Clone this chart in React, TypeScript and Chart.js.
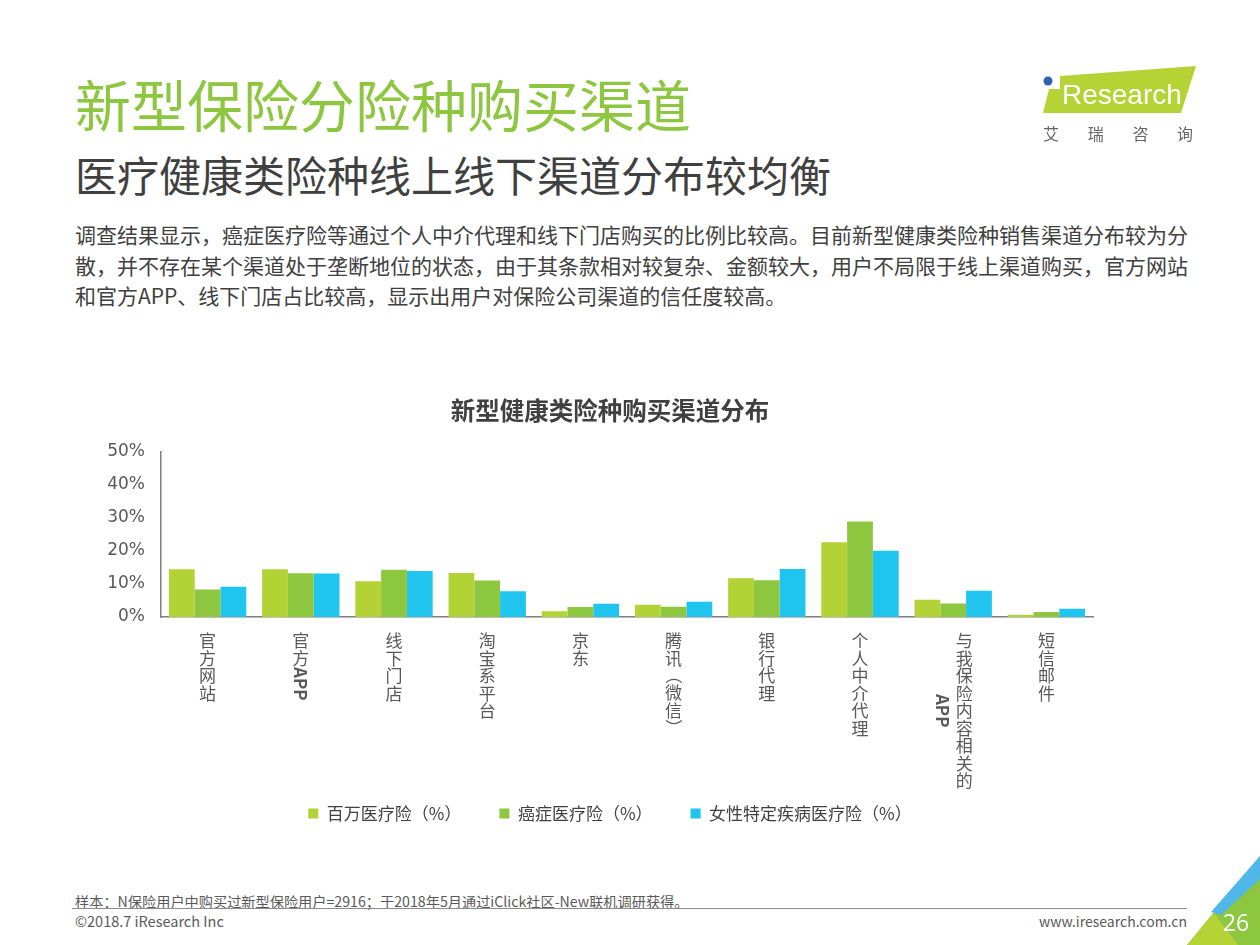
import React, { useEffect, useRef } from "react";
import { Chart, registerables } from "chart.js";

Chart.register(...registerables);

// ---------------- data ----------------
const categories = [
  "官方网站",
  "官方APP",
  "线下门店",
  "淘宝系平台",
  "京东",
  "腾讯（微信）",
  "银行代理",
  "个人中介代理",
  "与我保险内容相关的APP",
  "短信邮件",
];
const seriesNames = ["百万医疗险（%）", "癌症医疗险（%）", "女性特定疾病医疗险（%）"];
const millionMedical = [14.4, 14.4, 10.8, 13.3, 1.7, 3.7, 11.7, 22.6, 5.2, 0.7];
const cancerMedical = [8.3, 13.2, 14.3, 11.0, 3.0, 3.1, 11.1, 28.8, 4.1, 1.5];
const femaleSpecific = [9.1, 13.1, 13.9, 7.8, 4.0, 4.6, 14.5, 20.0, 7.9, 2.5];
const yTickValues = [0, 10, 20, 30, 40, 50];
const seriesColors = ["#B3D236", "#8DC63F", "#1FC4EF"];

const chartTitle = "新型健康类险种购买渠道分布";
const pageTitle = "新型保险分险种购买渠道";
const pageSubtitle = "医疗健康类险种线上线下渠道分布较均衡";
const bodyLines = [
  "调查结果显示，癌症医疗险等通过个人中介代理和线下门店购买的比例比较高。目前新型健康类险种销售渠道分布较为分",
  "散，并不存在某个渠道处于垄断地位的状态，由于其条款相对较复杂、金额较大，用户不局限于线上渠道购买，官方网站",
  "和官方APP、线下门店占比较高，显示出用户对保险公司渠道的信任度较高。",
];
const sourceNote = "样本：N保险用户中购买过新型保险用户=2916；于2018年5月通过iClick社区-New联机调研获得。";

const CJK = '"Noto Sans CJK SC", "Noto Sans", sans-serif';

// ------------- vertical x labels plugin -------------
type Tok = { text: string; rotate: boolean; bold: boolean };
function tokenize(label: string): Tok[] {
  const parts = label.match(/[A-Za-z0-9]+|./gu) || [];
  return parts.map((p) => {
    const latin = /^[A-Za-z0-9]+$/.test(p);
    const paren = /^[（）()]$/.test(p);
    return { text: p, rotate: latin || paren, bold: latin };
  });
}

const verticalLabels = {
  id: "verticalLabels",
  afterDraw(chart: any) {
    const { ctx, chartArea } = chart;
    const x = chart.scales.x;
    const labels: string[] = chart.data.labels;
    const fs = 17;
    const pitch = 17.5;
    const maxH = 160;
    const colGap = 22;
    const top = chartArea.bottom + 15;
    ctx.save();
    ctx.fillStyle = "#595959";
    labels.forEach((label, i) => {
      const cx = x.getPixelForValue(i);
      const toks = tokenize(label);
      const cols: { tok: Tok; adv: number }[][] = [[]];
      const heights: number[] = [0];
      toks.forEach((t) => {
        let adv = pitch;
        if (t.rotate) {
          ctx.font = `${t.bold ? "bold " : ""}${fs}px ${CJK}`;
          adv = ctx.measureText(t.text).width;
        }
        const last = cols.length - 1;
        if (heights[last] + adv > maxH && cols[last].length) {
          cols.push([]);
          heights.push(0);
        }
        cols[cols.length - 1].push({ tok: t, adv });
        heights[heights.length - 1] += adv;
      });
      const n = cols.length;
      cols.forEach((col, ci) => {
        const colX = cx + ((n - 1) / 2) * colGap - ci * colGap;
        let y = top + (ci > 0 ? (heights[0] - heights[ci]) / 2 : 0);
        col.forEach(({ tok, adv }) => {
          ctx.font = `${tok.bold ? "bold " : ""}${fs}px ${CJK}`;
          if (tok.rotate) {
            ctx.save();
            ctx.translate(colX, y);
            ctx.rotate(Math.PI / 2);
            ctx.textAlign = "left";
            ctx.textBaseline = "middle";
            ctx.fillText(tok.text, 0, 0);
            ctx.restore();
          } else {
            ctx.textAlign = "center";
            ctx.textBaseline = "middle";
            ctx.fillText(tok.text, colX, y + pitch / 2);
          }
          y += adv;
        });
      });
    });
    ctx.restore();
  },
};

function BarChart() {
  const ref = useRef<HTMLCanvasElement | null>(null);
  useEffect(() => {
    if (!ref.current) return;
    const series = [millionMedical, cancerMedical, femaleSpecific];
    const chart = new Chart(ref.current, {
      type: "bar",
      data: {
        labels: categories,
        datasets: series.map((d, i) => ({
          label: seriesNames[i],
          data: d,
          backgroundColor: seriesColors[i],
          borderWidth: 0,
          categoryPercentage: 0.83,
          barPercentage: 1.0,
        })),
      },
      options: {
        animation: false,
        responsive: false,
        devicePixelRatio: 1,
        layout: { padding: 0 },
        plugins: {
          title: {
            display: true,
            text: chartTitle,
            color: "#404040",
            font: { family: CJK, size: 24.5, weight: "bold" },
            padding: { top: 8, bottom: 26 },
          },
          legend: {
            position: "bottom",
            labels: {
              boxWidth: 10,
              boxHeight: 10,
              padding: 38,
              color: "#404040",
              font: { family: CJK, size: 17 },
            },
          },
          tooltip: { enabled: false },
        },
        scales: {
          x: {
            grid: { display: false, drawTicks: false },
            border: { display: true, color: "#7F7F7F", width: 1.5 },
            ticks: { display: false },
            afterFit: (s: any) => {
              s.height = 150;
            },
          },
          y: {
            min: 0,
            max: 50,
            afterBuildTicks: (s: any) => {
              s.ticks = yTickValues.map((v) => ({ value: v }));
            },
            grid: { display: false, drawTicks: false },
            border: { display: true, color: "#7F7F7F", width: 1.5 },
            ticks: {
              padding: 16,
              color: "#595959",
              font: { family: '"DejaVu Sans", Verdana, sans-serif', size: 17 },
              callback: (v: any) => `${v}%`,
            },
            afterFit: (s: any) => {
              s.width = 71;
            },
          },
          // empty spacer on the right so the plot ends where the reference axis ends
          spacer: {
            type: "linear",
            position: "right",
            display: true,
            grid: { display: false, drawTicks: false },
            border: { display: false },
            ticks: { display: false },
            afterFit: (s: any) => {
              s.width = 37;
            },
          },
        },
      },
      plugins: [verticalLabels],
    } as any);
    return () => chart.destroy();
  }, []);
  return (
    <canvas
      ref={ref}
      width={1040}
      height={444}
      style={{ position: "absolute", left: 90, top: 388, width: 1040, height: 444 }}
    />
  );
}

export default function App() {
  useEffect(() => {
    document.body.style.margin = "0";
  }, []);
  const abs = (left: number, top: number, size: number, color: string, extra: any = {}) => ({
    position: "absolute" as const,
    left,
    top,
    fontSize: size,
    lineHeight: 1,
    color,
    fontFamily: CJK,
    whiteSpace: "nowrap" as const,
    margin: 0,
    ...extra,
  });
  return (
    <div
      style={{
        position: "absolute",
        left: 0,
        top: 0,
        width: 1260,
        height: 945,
        overflow: "hidden",
        background: "#FFFFFF",
      }}
    >
      <div style={abs(75, 75, 56, "#8DC63F")}>{pageTitle}</div>
      <div style={abs(75, 153, 42, "#404040")}>{pageSubtitle}</div>
      {bodyLines.map((l, i) => (
        <div key={i} style={abs(75, 224 + i * 30.5, 21, "#404040")}>
          {l}
        </div>
      ))}

      <BarChart />

      <div style={abs(75, 894, 14.2, "#595959")}>{sourceNote}</div>
      <div style={abs(75, 913.5, 14.5, "#595959")}>©2018.7 iResearch Inc</div>
      <div style={abs(0, 914, 14, "#595959", { left: "auto", right: 73 })}>www.iresearch.com.cn</div>

      <svg
        width={1260}
        height={945}
        style={{ position: "absolute", left: 0, top: 0, pointerEvents: "none" }}
      >
        {/* logo */}
        <polygon points="1060,76 1196,66 1181,113 1043,113 1049,89 1060,89" fill="#B5D334" />
        <circle cx={1048} cy={81} r={4.5} fill="#2F63AE" />
        <text x={1062} y={104} fontSize={28} fill="#FFFFFF" fontFamily='"Liberation Sans", Arial, sans-serif'>
          Research
        </text>
        {["艾", "瑞", "咨", "询"].map((c, i) => (
          <text
            key={c}
            x={1051 + i * 44.7}
            y={133}
            fontSize={16}
            fill="#666666"
            textAnchor="middle"
            dominantBaseline="central"
            fontFamily={CJK}
          >
            {c}
          </text>
        ))}
        {/* footer line */}
        <line x1={72} y1={908.5} x2={1187} y2={908.5} stroke="#8C8C8C" strokeWidth={1} />
        {/* corner decoration */}
        <polygon points="1187,945 1260,856 1260,945" fill="#8DC63F" />
        <polygon points="1211,912 1260,856 1260,879 1221,915" fill="#4FB8E8" />
        <polygon points="1187,945 1214,913 1238,945" fill="#B5D334" />
        <text
          x={1236}
          y={922}
          fontSize={23}
          fill="#FFFFFF"
          textAnchor="middle"
          dominantBaseline="central"
          fontFamily='"Open Sans", "Noto Sans", sans-serif'
        >
          26
        </text>
      </svg>
    </div>
  );
}
